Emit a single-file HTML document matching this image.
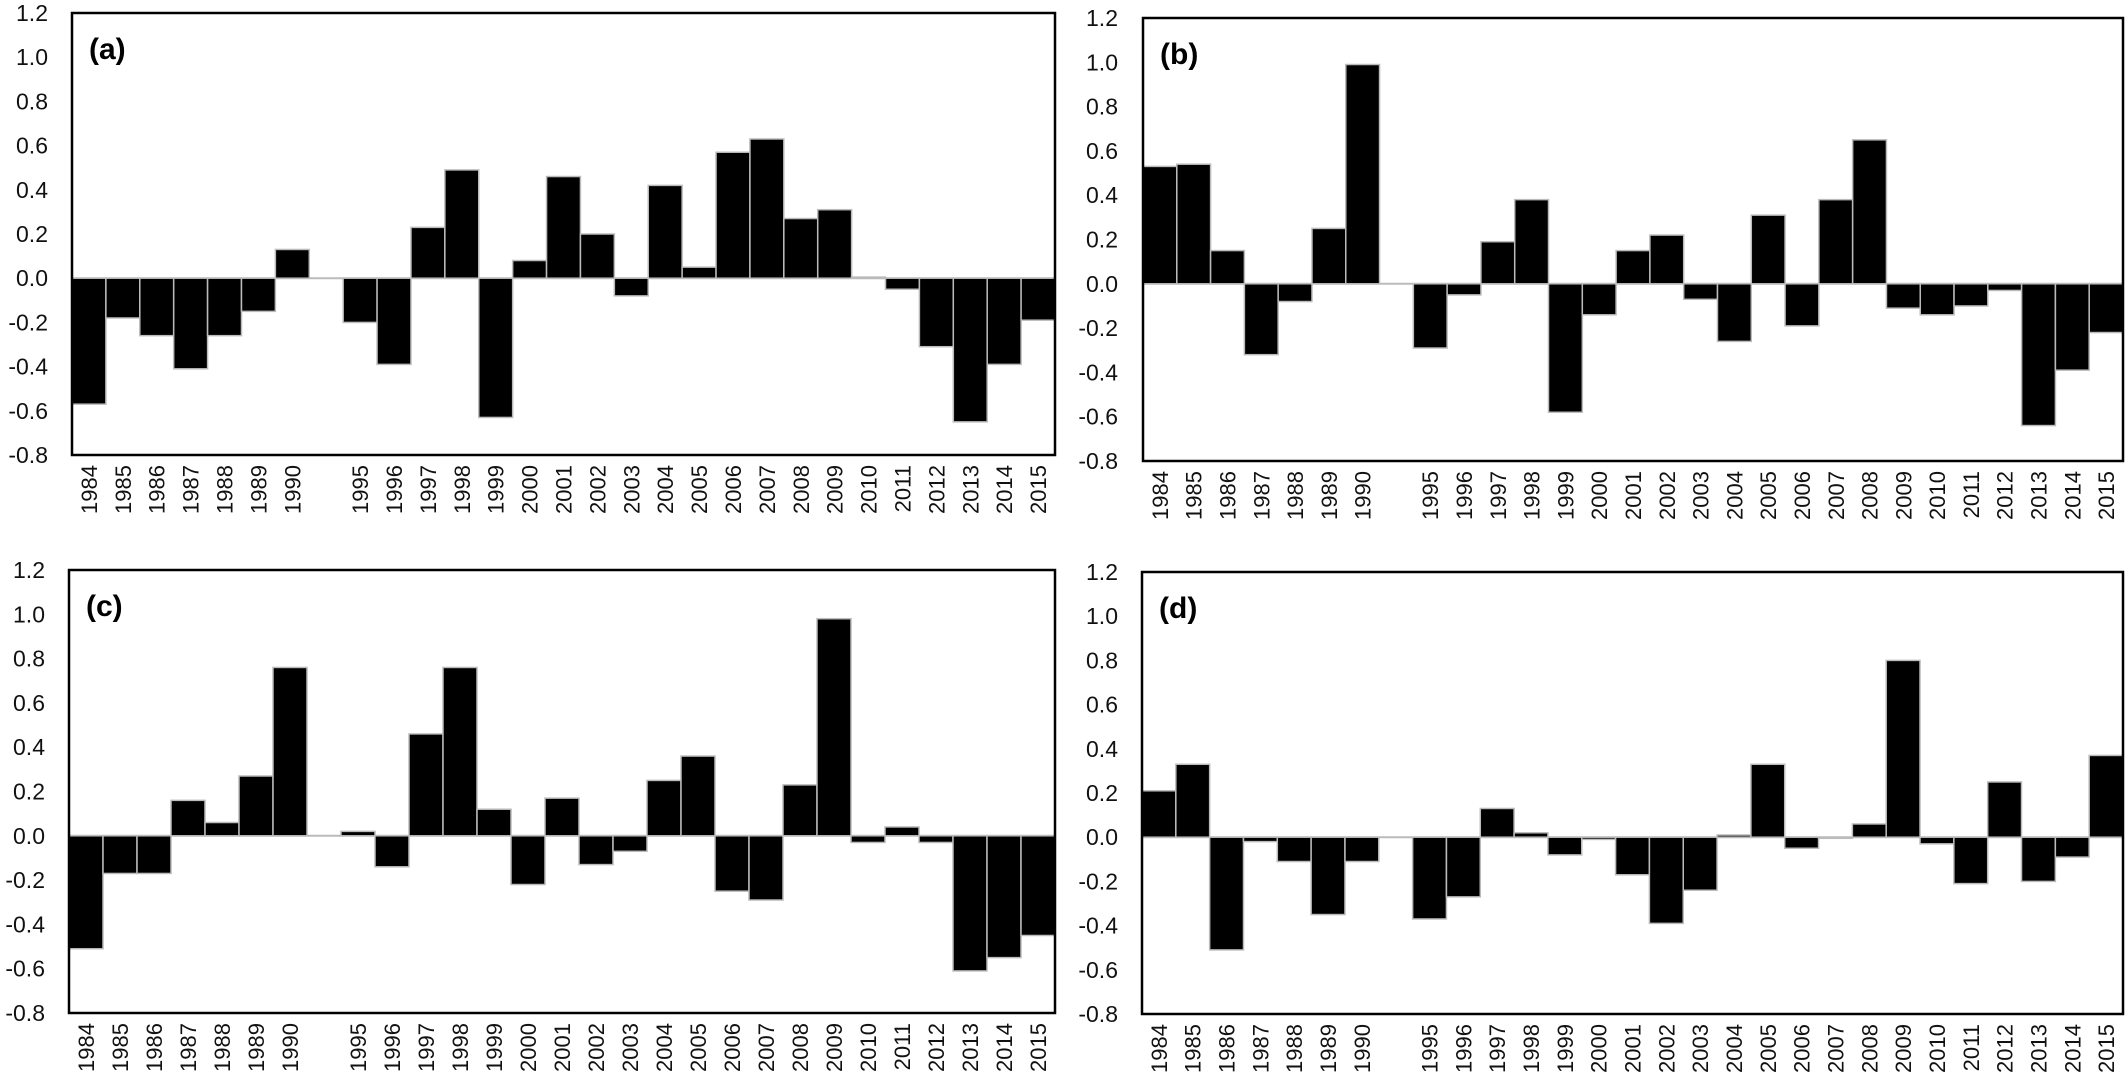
<!DOCTYPE html>
<html><head><meta charset="utf-8"><style>
html,body{margin:0;padding:0;background:#fff;}
svg{display:block;font-family:"Liberation Sans",sans-serif;}
</style></head><body>
<svg id="chart" width="2128" height="1089" viewBox="0 0 2128 1089" xmlns="http://www.w3.org/2000/svg"></svg>
<script>
const categories = ["1984","1985","1986","1987","1988","1989","1990","","1995","1996","1997","1998","1999","2000","2001","2002","2003","2004","2005","2006","2007","2008","2009","2010","2011","2012","2013","2014","2015"];
const yTicks = [1.2,1.0,0.8,0.6,0.4,0.2,0.0,-0.2,-0.4,-0.6,-0.8];
const yTickLabels = ["1.2","1.0","0.8","0.6","0.4","0.2","0.0","-0.2","-0.4","-0.6","-0.8"];
const seriesA = [-0.57,-0.18,-0.26,-0.41,-0.26,-0.15,0.13,null,-0.2,-0.39,0.23,0.49,-0.63,0.08,0.46,0.2,-0.08,0.42,0.05,0.57,0.63,0.27,0.31,0.005,-0.05,-0.31,-0.65,-0.39,-0.19];
const seriesB = [0.53,0.54,0.15,-0.32,-0.08,0.25,0.99,null,-0.29,-0.05,0.19,0.38,-0.58,-0.14,0.15,0.22,-0.07,-0.26,0.31,-0.19,0.38,0.65,-0.11,-0.14,-0.1,-0.03,-0.64,-0.39,-0.22];
const seriesC = [-0.51,-0.17,-0.17,0.16,0.06,0.27,0.76,null,0.02,-0.14,0.46,0.76,0.12,-0.22,0.17,-0.13,-0.07,0.25,0.36,-0.25,-0.29,0.23,0.98,-0.03,0.04,-0.03,-0.61,-0.55,-0.45];
const seriesD = [0.21,0.33,-0.51,-0.02,-0.11,-0.35,-0.11,null,-0.37,-0.27,0.13,0.02,-0.08,-0.01,-0.17,-0.39,-0.24,0.01,0.33,-0.05,-0.005,0.06,0.8,-0.03,-0.21,0.25,-0.2,-0.09,0.37];
const panelLabels = ["(a)","(b)","(c)","(d)"];

const NS = "http://www.w3.org/2000/svg";
const svg = document.getElementById("chart");
function mk(tag, attrs, parent){
  const e = document.createElementNS(NS, tag);
  for (const k in attrs) e.setAttribute(k, attrs[k]);
  parent.appendChild(e);
  return e;
}
const panels = [
  {key:"a", data:seriesA, left:72, right:1055, top:13, bottom:455, ylabX:48},
  {key:"b", data:seriesB, left:1143, right:2123, top:18, bottom:461, ylabX:1118},
  {key:"c", data:seriesC, left:69, right:1055, top:570, bottom:1013, ylabX:45},
  {key:"d", data:seriesD, left:1142, right:2123, top:572, bottom:1014, ylabX:1118}
];
panels.forEach((p, pi) => {
  const g = mk("g", {}, svg);
  
  
  const yMin = -0.8, yMax = 1.2;
  const yScale = v => p.bottom - (v - yMin) / (yMax - yMin) * (p.bottom - p.top);
  const slot = (p.right - p.left) / categories.length;
  const xScale = i => p.left + i * slot;
  const y0 = yScale(0);
  // y tick labels
  yTicks.forEach((t, i) => {
    const tx = mk("text", {x:p.ylabX, y:yScale(t) + 8, "text-anchor":"end", "font-size":"23", fill:"#111"}, g);
    tx.textContent = yTickLabels[i];
    
    
  });
  // zero line
  const zl = mk("line", {x1:p.left, x2:p.right, y1:y0, y2:y0, stroke:"#bbb", "stroke-width":"2"}, g);
  
  
  // bars
  p.data.forEach((v, i) => {
    if (v === null) return;
    const yv = yScale(v);
    const r = mk("rect", {x:xScale(i), y:Math.min(yv, y0), width:slot, height:Math.max(Math.abs(yv - y0), 0.5), fill:"#000", stroke:"#bbb", "stroke-width":"1.5"}, g);
    
    
  });
  // frame
  const fr = mk("rect", {x:p.left, y:p.top, width:p.right - p.left, height:p.bottom - p.top, fill:"none", stroke:"#000", "stroke-width":"2.5"}, g);
  
  
  // x labels
  categories.forEach((c, i) => {
    if (!c) return;
    const cx = xScale(i) + slot / 2 + 8;
    const cy = p.bottom + 10;
    const tx = mk("text", {x:cx, y:cy, "text-anchor":"end", "font-size":"22", fill:"#111", transform:"rotate(-90 " + cx + " " + cy + ")"}, g);
    tx.textContent = c;
    
    
  });
  // panel label
  const pl = mk("text", {x:p.left + 17, y:p.top + 46, "font-size":"30", "font-weight":"bold", fill:"#000"}, g);
  pl.textContent = panelLabels[pi];
  
  
});
</script>
</body></html>
